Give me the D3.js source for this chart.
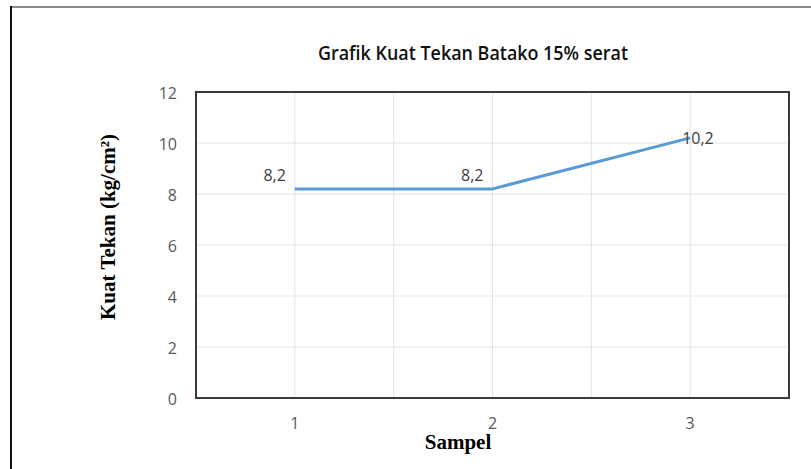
<!DOCTYPE html>
<html>
<head>
<meta charset="utf-8">
<script src="https://cdn.jsdelivr.net/npm/d3@7"></script>
<style>
  html, body { margin: 0; padding: 0; background: #fff; }
  svg { display: block; }
</style>
</head>
<body>
<svg id="chart" width="811" height="469"></svg>
<script>
const categories = ["1", "2", "3"];
const values = [8.2, 8.2, 10.2];
const valueLabels = ["8,2", "8,2", "10,2"];
const yTicks = [0, 2, 4, 6, 8, 10, 12];
const chartTitle = "Grafik Kuat Tekan Batako 15% serat";
const yTitle = "Kuat Tekan (kg/cm²)";
const xTitle = "Sampel";

const svg = d3.select("#chart");
const W = 811, H = 469;
const plot = { left: 196, top: 92, right: 789, bottom: 398 };

// outer frame (partially visible)
svg.append("line").attr("x1", 10).attr("x2", W).attr("y1", 7).attr("y2", 7)
  .attr("stroke", "#8c8c8c").attr("stroke-width", 2);
svg.append("line").attr("x1", 11).attr("x2", 11).attr("y1", 6).attr("y2", H)
  .attr("stroke", "#111").attr("stroke-width", 2);

const x = d3.scaleBand().domain(categories).range([plot.left, plot.right]).padding(0);
const y = d3.scaleLinear().domain([0, 12]).range([plot.bottom, plot.top]);

const g = svg.append("g");

// horizontal gridlines
g.selectAll(".hgrid").data(yTicks).join("line")
  .attr("x1", plot.left).attr("x2", plot.right)
  .attr("y1", d => y(d)).attr("y2", d => y(d))
  .attr("stroke", "#e3e3e3").attr("stroke-width", 1);

// vertical gridlines: category centers and inner band boundaries
const vLines = [];
categories.forEach((c, i) => {
  vLines.push(x(c) + x.bandwidth() / 2);
  if (i > 0) vLines.push(x(c));
});
g.selectAll(".vgrid").data(vLines).join("line")
  .attr("x1", d => d).attr("x2", d => d)
  .attr("y1", plot.top).attr("y2", plot.bottom)
  .attr("stroke", "#e3e3e3").attr("stroke-width", 1);

// plot border
g.append("rect")
  .attr("x", plot.left).attr("y", plot.top)
  .attr("width", plot.right - plot.left).attr("height", plot.bottom - plot.top)
  .attr("fill", "none").attr("stroke", "#3a3a3a").attr("stroke-width", 2);

// y axis labels
const yAxis = d3.axisLeft(y).tickValues(yTicks).tickSize(0).tickPadding(19).tickFormat(d3.format("d"));
const ya = svg.append("g").attr("transform", `translate(${plot.left},0)`).call(yAxis);
ya.select(".domain").remove();
ya.selectAll("text").attr("font-family", "'Open Sans', sans-serif").attr("font-size", 16)
  .attr("fill", "#595959").attr("dy", "0.42em");

// x axis labels
const xAxis = d3.axisBottom(x).tickSize(0).tickPadding(20);
const xa = svg.append("g").attr("transform", `translate(0,${plot.bottom})`).call(xAxis);
xa.select(".domain").remove();
xa.selectAll("text").attr("font-family", "'Open Sans', sans-serif").attr("font-size", 16)
  .attr("fill", "#595959");

// line
const line = d3.line().x((d, i) => x(categories[i]) + x.bandwidth() / 2).y(d => y(d));
svg.append("path").datum(values)
  .attr("d", line).attr("fill", "none")
  .attr("stroke", "#5b9bd5").attr("stroke-width", 3).attr("stroke-linejoin", "round");

// data labels
svg.selectAll(".dlabel").data(values).join("text")
  .attr("x", (d, i) => {
    const cx = x(categories[i]) + x.bandwidth() / 2;
    return i < 2 ? cx - 9 : cx - 8;
  })
  .attr("y", (d, i) => i < 2 ? y(d) - 8 : y(d) + 6)
  .attr("text-anchor", (d, i) => i < 2 ? "end" : "start")
  .attr("font-family", "'Open Sans', sans-serif").attr("font-size", 16)
  .attr("fill", "#404040")
  .text((d, i) => valueLabels[i]);

// title
svg.append("text").attr("x", 473).attr("y", 59.5).attr("text-anchor", "middle")
  .attr("font-family", "'Open Sans', sans-serif").attr("font-size", 20)
  .attr("font-weight", 600)
  .attr("fill", "#111")
  .attr("textLength", 310).attr("lengthAdjust", "spacingAndGlyphs")
  .text(chartTitle);

// y title
svg.append("text").attr("transform", "translate(115,227) rotate(-90)")
  .attr("text-anchor", "middle")
  .attr("font-family", "'Liberation Serif', 'Times New Roman', serif").attr("font-weight", "bold")
  .attr("font-size", 21).attr("fill", "#000")
  .text(yTitle);

// x title
svg.append("text").attr("x", 458).attr("y", 449).attr("text-anchor", "middle")
  .attr("font-family", "'Liberation Serif', 'Times New Roman', serif").attr("font-weight", "bold")
  .attr("font-size", 21).attr("fill", "#000")
  .text(xTitle);
</script>
</body>
</html>
